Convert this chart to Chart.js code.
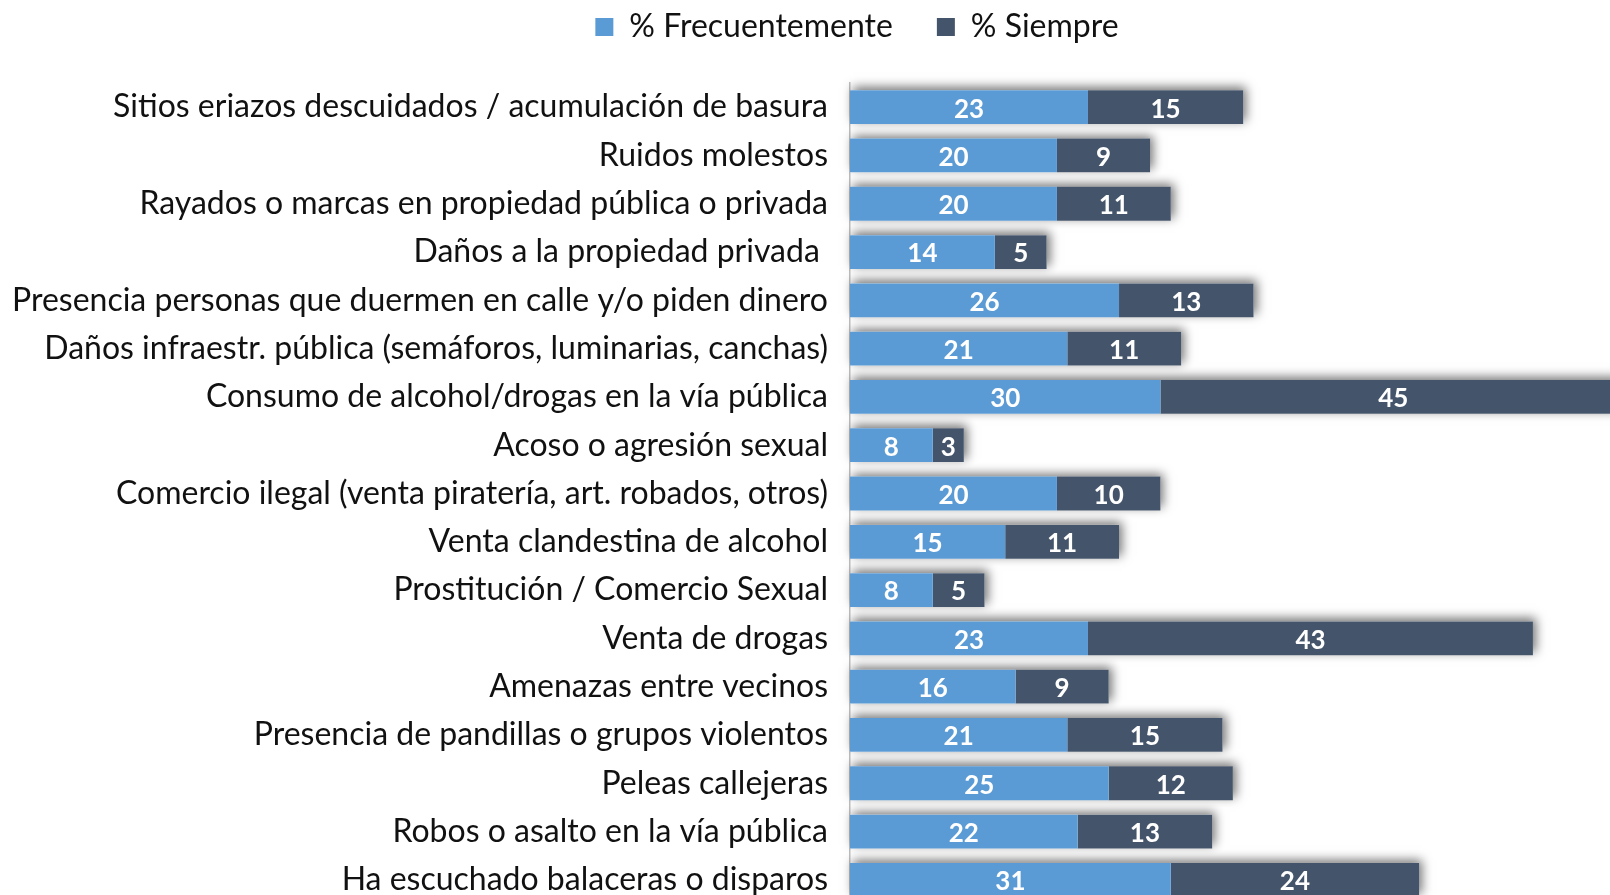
<!DOCTYPE html>
<html>
<head>
<meta charset="utf-8">
<script src="https://cdn.jsdelivr.net/npm/chart.js@4.4.0/dist/chart.umd.min.js"></script>
<style>
  html,body{margin:0;padding:0;background:#fff;overflow:hidden;}
  #chart{display:block;}
</style>
</head>
<body>
<canvas id="chart" width="1714" height="910"></canvas>
<script>
// ---- datos ----
const CATEGORIAS = [
  "Sitios eriazos descuidados / acumulación de basura",
  "Ruidos molestos",
  "Rayados o marcas en propiedad pública o privada",
  "Daños a la propiedad privada ",
  "Presencia personas que duermen en calle y/o piden dinero",
  "Daños infraestr. pública (semáforos, luminarias, canchas)",
  "Consumo de alcohol/drogas en la vía pública",
  "Acoso o agresión sexual",
  "Comercio ilegal (venta piratería, art. robados, otros)",
  "Venta clandestina de alcohol",
  "Prostitución / Comercio Sexual",
  "Venta de drogas",
  "Amenazas entre vecinos",
  "Presencia de pandillas o grupos violentos",
  "Peleas callejeras",
  "Robos o asalto en la vía pública",
  "Ha escuchado balaceras o disparos"
];
const FRECUENTEMENTE = [23, 20, 20, 14, 26, 21, 30, 8, 20, 15, 8, 23, 16, 21, 25, 22, 31];
const SIEMPRE        = [15,  9, 11,  5, 13, 11, 45, 3, 10, 11, 5, 43,  9, 15, 12, 13, 24];
const SERIES = ["% Frecuentemente", "% Siempre"];

const AZUL = "#5B9BD5", GRIS = "#44546A";
const FONT = "Lato, 'Open Sans', sans-serif";

// sombra detrás de cada barra apilada completa
const sombra = {
  id: "sombra",
  beforeDatasetsDraw(chart){
    const ctx = chart.ctx;
    const m0 = chart.getDatasetMeta(0), m1 = chart.getDatasetMeta(1);
    ctx.save();
    ctx.shadowColor = "rgba(0,0,0,0.55)";
    ctx.shadowBlur = 10;
    ctx.shadowOffsetX = 3;
    ctx.shadowOffsetY = -3;
    ctx.fillStyle = "#fff";
    m0.data.forEach((b, i)=>{
      const p = b.getProps(["y","base","height"], true);
      const e = m1.data[i].getProps(["x"], true);
      ctx.fillRect(p.base, p.y - p.height/2, e.x - p.base, p.height);
    });
    ctx.restore();
  }
};

// etiquetas de valores dentro de las barras
const valores = {
  id: "valores",
  afterDatasetsDraw(chart){
    const ctx = chart.ctx;
    ctx.save();
    ctx.fillStyle = "#fff";
    ctx.font = "bold 26px " + FONT;
    ctx.textAlign = "center";
    ctx.textBaseline = "middle";
    chart.data.datasets.forEach((ds, di)=>{
      chart.getDatasetMeta(di).data.forEach((b, i)=>{
        const p = b.getProps(["x","y","base"], true);
        ctx.fillText(String(ds.data[i]), (p.x + p.base)/2, p.y + 2);
      });
    });
    ctx.restore();
  }
};

new Chart(document.getElementById("chart"), {
  type: "bar",
  data: {
    labels: CATEGORIAS,
    datasets: [
      { label: SERIES[0], data: FRECUENTEMENTE, backgroundColor: AZUL, barPercentage: 0.7, categoryPercentage: 1.0 },
      { label: SERIES[1], data: SIEMPRE, backgroundColor: GRIS, barPercentage: 0.7, categoryPercentage: 1.0 }
    ]
  },
  options: {
    indexAxis: "y",
    responsive: false,
    animation: false,
    layout: { padding: { left: 0, right: 0, top: -33, bottom: 6 } },
    plugins: {
      legend: {
        position: "top",
        labels: {
          color: "#111",
          font: { family: FONT, size: 32 },
          boxWidth: 18, boxHeight: 18,
          padding: 44
        }
      },
      // espacio vacío entre la leyenda y las barras
      subtitle: {
        display: true, text: "", weight: 500,
        font: { size: 1, lineHeight: 1 },
        padding: { top: 0, bottom: 29 }
      },
      tooltip: { enabled: false }
    },
    scales: {
      x: { stacked: true, display: false, min: 0, max: 83.5 },
      y: {
        stacked: true,
        grid: { display: false, drawTicks: false },
        border: { display: true, color: "#BFBFBF", width: 1.5 },
        ticks: { color: "#111", font: { family: FONT, size: 32 }, padding: 22 },
        afterFit(s){
          s.width = 850;
          s.paddingTop = 0;
          s.paddingBottom = 0;
        }
      }
    }
  },
  plugins: [sombra, valores]
});
</script>
</body>
</html>
